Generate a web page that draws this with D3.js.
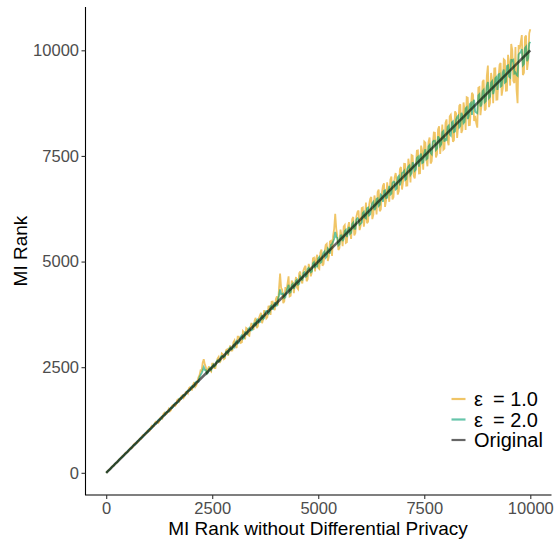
<!DOCTYPE html>
<html>
<head>
<meta charset="utf-8">
<script src="https://cdn.jsdelivr.net/npm/d3@7"></script>
<style>
  html, body { margin: 0; padding: 0; background: #fff; }
  svg { display: block; font-family: "Liberation Sans", Arial, sans-serif; }
</style>
</head>
<body>
<svg id="chart" width="558" height="540"></svg>
<script>
// ---- data ----
// ranks sampled on the x axis (group A)
const ranksA = [
  0,50,100,150,200,250,300,350,400,450,500,550,600,650,700,750,800,850,900,950,
  1000,1050,1100,1150,1200,1250,1300,1350,1400,1450,1500,1550,1600,1650,1700,1750,1800,1850,1900,1950,
  2000,2050,2100,2150,2200,2250,2300,2350,2400,2450,2500,2550,2600,2650,2700,2750,2800,2850,2900,2950,
  3000,3050,3100,3150,3200,3250,3300,3350,3400,3450,3500,3550,3600,3650,3700,3750,3800,3850,3900,3950,
  4000,4050,4100,4150,4200,4250,4300,4350,4400,4450,4500,4550,4600,4650,4700,4750,4800,4850,4900,4950,
  5000,5050,5100,5150,5200,5250,5300,5350,5400,5450,5500,5550,5600,5650,5700,5750,5800,5850,5900,5950,
  6000,6050,6100,6150,6200,6250,6300,6350,6400,6450,6500,6550,6600,6650,6700,6750,6800,6850,6900,6950,
  7000,7050,7100,7150,7200,7250,7300,7350,7400,7450,7500,7550,7600,7650,7700,7750,7800,7850,7900,7950,
  8000,8050,8100,8150,8200,8250,8300,8350,8400,8450,8500,8550,8600,8650,8700,8750,8800,8850,8900,8950,
  9000,9050,9100,9150,9200,9250,9300,9350,9400,9450,9500,9550,9600,9650,9700,9750,9800,9850,9900,9950,
  10000
];
const eps1A = [
  0,56,96,160,203,241,312,347,408,465,489,554,584,668,702,736,809,870,894,966,
  980,1075,1090,1188,1205,1215,1320,1392,1382,1458,1455,1580,1612,1622,1745,1745,1835,1810,1915,2000,
  1970,2090,2035,2170,2310,2420,2690,2500,2460,2420,2585,2480,2615,2745,2655,2805,2710,2920,2930,2890,
  3090,3000,3220,3165,3090,3325,3430,3260,3440,3430,3605,3425,3660,3785,3630,3770,3685,3940,4050,3910,
  4110,3960,4715,4330,4060,4310,4650,4190,4500,4475,4380,4725,4540,4790,4900,4580,4850,4750,5090,5070,
  4850,5210,4900,5230,5420,5120,5490,5600,6130,5590,5320,5610,5830,5440,5810,5690,6000,5620,6070,6210,
  5850,6280,6020,5910,6350,6530,6110,6410,6650,6190,6620,6850,6450,6610,6940,6470,6980,6940,6670,7240,
  6890,7310,6800,7250,7520,7030,7240,7630,7090,7620,7840,7410,7830,7320,7750,8050,7540,8200,7810,7650,
  8280,7850,8440,8270,7870,8510,8210,8720,8120,8600,8890,8230,8660,8950,8450,8170,9130,8700,9300,8610,
  9640,8750,9280,9570,8830,9340,9700,9100,9760,9050,9700,10150,9280,10080,8750,10030,10360,9470,10350,9750,
  10500
];
const eps2A = [
  0,53,95,152,206,246,301,357,394,453,492,559,598,655,691,760,804,840,908,945,
  1012,1038,1108,1165,1194,1268,1285,1355,1420,1440,1512,1530,1616,1653,1682,1772,1810,1834,1920,1942,
  2018,2025,2130,2160,2260,2360,2500,2430,2370,2485,2515,2512,2630,2630,2740,2758,2765,2878,2940,2920,
  3020,3095,3060,3160,3255,3198,3325,3398,3370,3395,3540,3610,3555,3670,3640,3800,3835,3792,3962,3930,
  3950,4110,4340,4230,4135,4290,4450,4280,4475,4420,4570,4475,4620,4730,4640,4822,4810,4770,4985,4910,
  5078,4970,5150,5240,5115,5280,5395,5470,5700,5560,5410,5620,5540,5750,5725,5655,5885,5780,6000,5990,
  5900,6145,6040,6260,6095,6290,6415,6260,6500,6340,6560,6670,6500,6680,6585,6855,6880,6730,7025,6900,
  7110,6930,7190,7275,7090,7300,7175,7480,7500,7330,7560,7420,7725,7570,7835,7860,7670,7920,7775,8090,
  7900,8190,8010,8295,8065,8360,8450,8210,8460,8305,8650,8450,8755,8770,8550,8510,8960,8720,9065,8795,
  9250,8900,9270,9070,9365,9425,9140,9470,9235,9630,9380,9790,9770,9475,9400,9935,10030,9680,10090,9810,
  10200
];
// ranks sampled between them (group B)
const ranksB = [
  25,75,125,175,225,275,325,375,425,475,525,575,625,675,725,775,825,875,925,975,
  1025,1075,1125,1175,1225,1275,1325,1375,1425,1475,1525,1575,1625,1675,1725,1775,1825,1875,1925,1975,
  2025,2075,2125,2175,2225,2275,2325,2375,2425,2475,2525,2575,2625,2675,2725,2775,2825,2875,2925,2975,
  3025,3075,3125,3175,3225,3275,3325,3375,3425,3475,3525,3575,3625,3675,3725,3775,3825,3875,3925,3975,
  4025,4075,4125,4175,4225,4275,4325,4375,4425,4475,4525,4575,4625,4675,4725,4775,4825,4875,4925,4975,
  5025,5075,5125,5175,5225,5275,5325,5375,5425,5475,5525,5575,5625,5675,5725,5775,5825,5875,5925,5975,
  6025,6075,6125,6175,6225,6275,6325,6375,6425,6475,6525,6575,6625,6675,6725,6775,6825,6875,6925,6975,
  7025,7075,7125,7175,7225,7275,7325,7375,7425,7475,7525,7575,7625,7675,7725,7775,7825,7875,7925,7975,
  8025,8075,8125,8175,8225,8275,8325,8375,8425,8475,8525,8575,8625,8675,8725,8775,8825,8875,8925,8975,
  9025,9075,9125,9175,9225,9275,9325,9375,9425,9475,9525,9575,9625,9675,9725,9775,9825,9875,9925,9975
];
const eps1B = [
  28,71,132,169,234,267,330,387,415,483,511,590,616,693,709,787,807,895,911,997,
  995,1110,1105,1215,1183,1303,1290,1420,1400,1513,1480,1605,1585,1723,1693,1817,1775,1911,1881,2025,
  1965,2145,2070,2260,2425,2605,2565,2335,2520,2395,2585,2480,2705,2605,2825,2690,2900,2775,3015,2895,
  3135,2955,3220,3075,3355,3160,3410,3245,3545,3380,3665,3465,3725,3540,3850,3655,3935,3735,4055,3850,
  4175,4375,4375,4015,4395,4475,4175,4550,4255,4635,4345,4765,4485,4855,4535,4945,4650,5075,4765,5160,
  4825,5285,4945,5395,5015,5475,5135,5775,5775,5275,5755,5365,5865,5455,5935,5535,6055,5675,6175,5745,
  6265,5825,6395,5945,6485,6005,6565,6115,6705,6235,6795,6295,6875,6415,7015,6525,7095,6585,7185,6705,
  7315,6795,7435,6875,7505,6965,7625,7085,7745,7175,7815,7255,7935,7375,8055,7465,8125,7545,8245,7675,
  8365,7755,8475,7835,8555,7925,8685,8045,8765,8115,8875,8235,8995,8325,8275,9115,8465,9255,8575,9395,
  8655,9465,8745,9575,8835,9655,8925,9785,9045,9895,9165,10005,9225,9075,10125,10195,9415,10315,9535,10405
];
const eps2B = [
  27,72,129,171,230,270,331,369,432,468,533,567,634,666,735,765,836,864,937,963,
  1039,1060,1141,1159,1242,1258,1343,1357,1443,1457,1544,1556,1645,1655,1745,1755,1846,1854,1947,1953,
  2055,2045,2157,2155,2315,2425,2435,2343,2460,2440,2561,2539,2662,2638,2763,2737,2865,2835,2967,2933,
  2980,3123,3075,3225,3173,3327,3271,3429,3370,3530,3469,3631,3567,3733,3665,3835,3763,3937,3861,4039,
  3959,4205,4225,4241,4157,4365,4257,4445,4355,4547,4453,4649,4551,4751,4649,4853,4747,4955,4845,4893,
  5107,4991,5209,5089,5311,5187,5413,5535,5575,5385,5617,5483,5719,5581,5821,5679,5923,5777,6025,5875,
  5923,6177,6021,6279,6119,6381,6217,6483,6315,6585,6413,6687,6511,6789,6609,6891,6707,6993,6805,7095,
  7147,6953,7249,7051,7351,7149,7453,7247,7555,7345,7657,7443,7759,7541,7861,7639,7963,7737,8065,7835,
  7883,8217,7981,8319,8079,8421,8177,8523,8275,8625,8373,8727,8471,8829,8525,8931,8669,9033,8767,9155,
  8865,9237,8963,9339,9061,9441,9159,9543,9257,9645,9355,9747,9453,9425,9900,9953,9647,10055,9745,10160
];
const originalX = [0, 10000];
const originalY = [0, 10000];

const seriesNames = ["\u03B5 = 1.0", "\u03B5 = 2.0", "Original"];
const seriesColors = ["#E69F00", "#009E73", "#000000"];
const xTicks = [0, 2500, 5000, 7500, 10000];
const yTicks = [0, 2500, 5000, 7500, 10000];
const xTitle = "MI Rank without Differential Privacy";
const yTitle = "MI Rank";

// ---- chart ----
const svg = d3.select("#chart");
const x = d3.scaleLinear().domain([-500, 10500]).range([85, 551.5]);
const y = d3.scaleLinear().domain([-525, 11025]).range([495, 7]);

const line = d3.line().x(d => x(d[0])).y(d => y(d[1]));

function merged(va, vb) {
  const pts = ranksA.map((r, i) => [r, va[i]]).concat(ranksB.map((r, i) => [r, vb[i]]));
  return d3.sort(pts, p => p[0]);
}

const series = [
  { name: seriesNames[0], color: seriesColors[0], pts: merged(eps1A, eps1B), w: 1.8 },
  { name: seriesNames[1], color: seriesColors[1], pts: merged(eps2A, eps2B), w: 1.8 },
  { name: seriesNames[2], color: seriesColors[2], pts: originalX.map((r, i) => [r, originalY[i]]), w: 2.6 }
];

svg.append("g").selectAll("path").data(series).join("path")
  .attr("d", d => line(d.pts))
  .attr("fill", "none")
  .attr("stroke", d => d.color)
  .attr("stroke-opacity", 0.6)
  .attr("stroke-width", d => d.w)
  .attr("stroke-linejoin", "miter")
  .attr("stroke-miterlimit", 3);

// axes
const xAxis = svg.append("g").attr("transform", "translate(0,495)")
  .call(d3.axisBottom(x).tickValues(xTicks).tickSize(4).tickPadding(3).tickFormat(d3.format("d")));
const yAxis = svg.append("g").attr("transform", "translate(85.5,0)")
  .call(d3.axisLeft(y).tickValues(yTicks).tickSize(4).tickPadding(2.5).tickFormat(d3.format("d")));

[xAxis, yAxis].forEach(g => {
  g.select(".domain").attr("stroke", "#000").attr("stroke-width", 1.1);
  g.selectAll(".tick line").attr("stroke", "#333").attr("stroke-width", 1.1);
  g.selectAll(".tick text").attr("fill", "#4D4D4D").attr("font-size", 16.5)
    .attr("font-family", "Liberation Sans, Arial, sans-serif");
});
xAxis.select(".domain").attr("d", "M85,0H551.5");
yAxis.select(".domain").attr("d", "M0,7V495");

// titles
svg.append("text").attr("x", 318).attr("y", 535).attr("text-anchor", "middle")
  .attr("font-size", 19).attr("fill", "#000").text(xTitle);
svg.append("text").attr("transform", "translate(26.5,251) rotate(-90)")
  .attr("text-anchor", "middle").attr("font-size", 19).attr("fill", "#000").text(yTitle);

// legend
const legY = [399, 419.5, 440];
const leg = svg.append("g");
series.forEach((s, i) => {
  leg.append("line").attr("x1", 451.5).attr("x2", 465.5).attr("y1", legY[i]).attr("y2", legY[i])
    .attr("stroke", s.color).attr("stroke-opacity", 0.6).attr("stroke-width", 2.2);
  const t = leg.append("text").attr("x", 474).attr("y", legY[i]).attr("dy", "0.36em")
    .attr("font-size", 20).attr("fill", "#000");
  if (i < 2) {
    const parts = s.name.split(" = ");
    t.append("tspan").text(parts[0]);
    t.append("tspan").attr("dx", 10).text("= " + parts[1]);
  } else {
    t.text(s.name);
  }
});
</script>
</body>
</html>
